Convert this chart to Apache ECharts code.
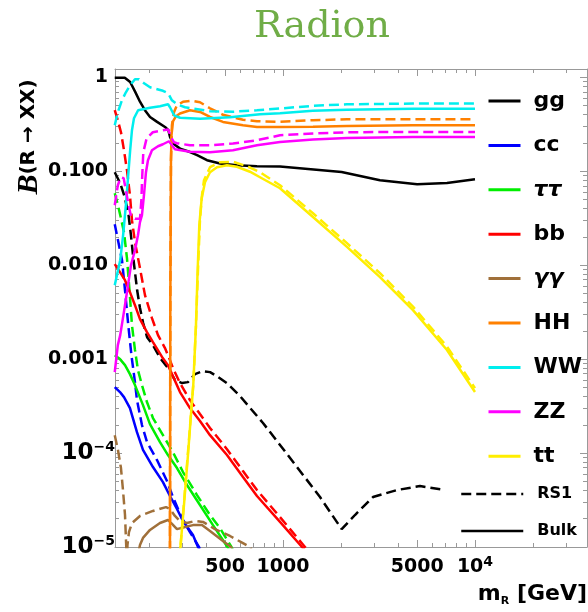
<!DOCTYPE html>
<html><head><meta charset="utf-8">
<script src="https://cdn.jsdelivr.net/npm/echarts@6/dist/echarts.min.js"></script>
<style>html,body{margin:0;padding:0;background:#fff}#c{width:588px;height:612px}</style>
</head><body><div id="c"></div>
<script>
// ---- data (m_R in GeV, branching ratio) ----
const channels = ['gg','cc','ττ','bb','γγ','HH','WW','ZZ','tt'];
const channelColors = ['#000000','#0000ff','#00ee00','#ff0000','#a0703a','#ff8000','#00eeee','#ff00ff','#ffee00'];

const ggBulk = [[133,0.99],[150,0.99],[160,0.89],[170,0.70],[180,0.55],[191,0.446],[203,0.378],[221,0.335],[243,0.296],[253,0.273],[258,0.232],[268,0.197],[291,0.174],[328,0.160],[357,0.148],[402,0.131],[470,0.121],[576,0.116],[732,0.113],[965,0.112],[2020,0.098],[3200,0.080],[5000,0.0727],[7150,0.075],[10000,0.082]];
const ggRS1 = [[133,0.0975],[142,0.0745],[150,0.0529],[157,0.034],[161.5,0.0209],[165.5,0.0128],[169.5,0.0084],[174,0.0054],[180,0.0035],[187,0.00242],[196,0.00171],[210,0.00141],[229,0.00103],[252,0.0008],[274,0.000598],[298,0.000556],[320,0.000569],[348,0.000692],[383,0.000745],[417,0.000727],[453,0.000659],[511,0.000555],[597,0.000404],[787,0.000209],[965,0.000122],[1183,0.000071],[1559,0.000034],[2022,0.0000155],[2371,0.0000219],[2943,0.000034],[3925,0.0000404],[5170,0.0000445],[6980,0.0000404]];

const ccBulk = [[133,0.000504],[141.6,0.000446],[148.6,0.000394],[159.6,0.000301],[173.6,0.000167],[186.6,0.000108],[210.3,0.000071],[237.1,0.0000491],[257.9,0.0000349],[280.5,0.0000254],[301.5,0.0000189],[339.8,0.0000134],[360.9,0.00001],[378.6,0.000008]];
const ccRS1 = [[133,0.0273],[138.2,0.0185],[145.1,0.0113],[150.4,0.00542],[156.4,0.0023],[162.9,0.00105],[169.5,0.000569],[173.6,0.000366],[184.3,0.000199],[195.7,0.000131],[220.8,0.0000842],[248.8,0.0000504],[267.4,0.000034],[297.9,0.0000203],[327.8,0.0000144],[365.2,0.00001],[383.1,0.000008]];

const tautauBulk = [[133,0.0011],[141.6,0.001],[150.4,0.000863],[159.6,0.000692],[169.5,0.000529],[186.6,0.000324],[202.9,0.000203],[228.8,0.000131],[251.8,0.0000952],[280.5,0.0000692],[316.2,0.0000457],[369.6,0.000028],[432,0.0000171],[510.9,0.0000102],[542.5,0.0000082]];
const tautauRS1 = [[133,0.0583],[138.2,0.0435],[143.3,0.0316],[148.6,0.0224],[154,0.01187],[158.7,0.00542],[163.5,0.0023],[169.5,0.00125],[175.7,0.000764],[184.3,0.000529],[195.7,0.000349],[210.3,0.000236],[237.1,0.000155],[267.4,0.000102],[301.5,0.0000628],[356.6,0.0000357],[416.8,0.0000219],[469.9,0.0000159],[536,0.0000102],[569.1,0.0000082]];

const bbBulk = [[133,0.01025],[141.6,0.00842],[150.4,0.00692],[159.6,0.00516],[169.5,0.00375],[180,0.00266],[195.7,0.00194],[210.3,0.00152],[237,0.00102],[251.8,0.000863],[264.2,0.000692],[290.8,0.000446],[327.8,0.000301],[369.6,0.000219],[416.8,0.000155],[510.9,0.0000952],[619,0.0000555],[732,0.0000349],[965,0.0000185],[1256,0.00001],[1383,0.000008]];
const bbRS1 = [[133,0.446],[138,0.349],[143.3,0.26],[148.6,0.167],[154,0.1025],[159.6,0.0555],[163.5,0.0301],[169.5,0.0176],[180,0.00929],[191.1,0.0048],[207.8,0.00273],[223.4,0.0018],[242.9,0.00131],[257.9,0.000976],[267.4,0.000802],[290.8,0.000555],[327.8,0.000366],[369.6,0.00026],[416.8,0.000185],[510.9,0.00011],[619,0.0000643],[732,0.0000404],[965,0.0000208],[1302,0.00001],[1416,0.000008]];

const gamgamBulk = [[173.6,0.0000073],[180,0.0000105],[186.6,0.0000125],[202.9,0.0000152],[228.8,0.000018],[251.8,0.0000194],[264.2,0.0000176],[280.5,0.0000155],[308.8,0.0000163],[339.8,0.0000171],[378.6,0.0000171],[416.8,0.0000148],[486.9,0.0000116],[536,0.00001],[569.1,0.000008]];
const gamgamRS1 = [[133,0.000155],[138.2,0.000108],[143.3,0.0000692],[146.8,0.0000404],[150.4,0.0000219],[152.7,0.00001],[153.2,0.000005],[154.9,0.0000105],[157.7,0.0000144],[163.5,0.000018],[180,0.0000214],[210.3,0.0000242],[245.9,0.0000266],[257.9,0.0000254],[273.8,0.0000214],[290.8,0.0000189],[316.2,0.000018],[348.1,0.0000189],[383.1,0.0000185],[442.5,0.0000155],[529.6,0.0000131],[619,0.000011],[673.1,0.00001],[714.7,0.000008]];

const hhBulk = [[257.5,0.000001],[259,0.0042],[261,0.131],[262.6,0.2415],[267.4,0.34],[277.2,0.385],[290.8,0.411],[327.8,0.446],[369.6,0.428],[416.8,0.378],[486.9,0.335],[619,0.309],[732,0.296],[965,0.296],[1433,0.297],[2154,0.303],[4754,0.309],[10000,0.309]];
const hhRS1 = [[257.5,0.000001],[259,0.0042],[261,0.131],[264,0.309],[270.6,0.424],[280.5,0.504],[301.5,0.548],[335.7,0.562],[369.6,0.542],[416.8,0.468],[486.9,0.399],[619,0.353],[732,0.34],[965,0.336],[1433,0.349],[2154,0.357],[4754,0.357],[10000,0.357]];

const wwBulk = [[133,0.0061],[142,0.0113],[147,0.0208],[152,0.0435],[156,0.086],[160,0.167],[163.5,0.273],[167.5,0.366],[176,0.446],[203,0.474],[229,0.491],[252,0.516],[258,0.48],[271,0.394],[291,0.371],[370,0.362],[530,0.375],[759,0.404],[965,0.414],[1430,0.44],[2150,0.451],[4750,0.462],[10000,0.462]];
const wwRS1 = [[133,0.309],[138,0.424],[145,0.569],[152,0.692],[160,0.822],[169.5,0.952],[178,0.952],[189,0.863],[203,0.783],[237,0.718],[252,0.676],[264,0.569],[280.5,0.516],[309,0.48],[417,0.435],[549,0.43],[732,0.446],[965,0.465],[1433,0.497],[2154,0.516],[4754,0.525],[10000,0.525]];

const zzBulk = [[133,0.000727],[138,0.00141],[142,0.0018],[149,0.00332],[154,0.00516],[161.6,0.01],[169.5,0.0144],[175.7,0.0208],[180,0.0287],[184.3,0.034],[188.8,0.0555],[193.4,0.0976],[198.1,0.131],[207.8,0.167],[223.4,0.1845],[237,0.1937],[254.8,0.2085],[264.2,0.189],[273.8,0.1714],[327.8,0.1612],[416.8,0.1593],[549,0.1673],[732,0.189],[965,0.205],[1433,0.2174],[2154,0.226],[4754,0.2317],[10000,0.2317]];
const zzRS1 = [[133,0.0435],[138,0.071],[143,0.0863],[148,0.0842],[152,0.0628],[157,0.0435],[161.6,0.0332],[169.5,0.0312],[180,0.0312],[183,0.0491],[185,0.0907],[187.3,0.1593],[195,0.2244],[210,0.26],[237,0.273],[252.7,0.278],[261,0.23],[270.6,0.2035],[280.5,0.1986],[327.8,0.189],[416.8,0.189],[549,0.197],[732,0.2137],[965,0.2415],[1433,0.252],[2154,0.26],[4754,0.262],[10000,0.262]];

const ttBulk = [[287.3,0.0000073],[292.5,0.00001],[305.1,0.000028],[320,0.0000952],[331.7,0.000254],[341,0.000529],[352.3,0.0023],[358.7,0.00783],[366.6,0.0266],[377.3,0.0516],[392.5,0.0764],[416.8,0.0976],[453.3,0.1103],[510.9,0.1158],[576,0.1116],[673.1,0.0988],[759,0.0863],[965,0.0659],[1433,0.0326],[2154,0.01566],[3200,0.00745],[4754,0.00332],[7147,0.00125],[10000,0.000446]];
const ttRS1 = [[287.3,0.0000073],[292.5,0.00001],[341,0.000529],[352.3,0.0023],[360.9,0.00885],[369.6,0.0301],[378.6,0.0555],[387.8,0.0802],[416.8,0.1103],[469.9,0.1247],[549.1,0.1262],[649.4,0.113],[759,0.0976],[965,0.071],[1433,0.0357],[2154,0.01714],[3200,0.00822],[4754,0.00362],[7147,0.00136],[10000,0.000491]];

const bulkSets = [ggBulk, ccBulk, tautauBulk, bbBulk, gamgamBulk, hhBulk, wwBulk, zzBulk, ttBulk];
const rs1Sets = [ggRS1, ccRS1, tautauRS1, bbRS1, gamgamRS1, hhRS1, wwRS1, zzRS1, ttRS1];

// ---- axes: ticks and labels ----
const xRange = [133.4, 38320];
const yRange = [1e-5, 1.225];
const xMajorTicks = [500, 1000, 5000, 10000];
const xTickLabels = ['{n|500}', '{n|1000}', '{n|5000}', '{b|10}{s|4}'];
const xMinorTicks = [200,300,400,600,700,800,900,2000,3000,4000,6000,7000,8000,9000,20000,30000];
const yMajorTicks = [1e-5, 1e-4, 1e-3, 1e-2, 1e-1, 1];
const yTickLabels = ['{b|10}{s|−5}', '{b|10}{s|−4}', '{d|0.001}', '{d|0.010}', '{d|0.100}', '{d|1}'];
const yMinorTicks = [];
for (let e = -5; e <= -1; e++) for (let k = 2; k <= 9; k++) yMinorTicks.push(k * Math.pow(10, e));

const L = Math.log10;
const FRAME = '#999999';
const FONT = 'DejaVu Sans';

function dispAxis(pos, range, ticks, len, showLine, labels, labelOpts) {
  const a = {
    type: 'value', position: pos, min: L(range[0]), max: L(range[1]),
    axisLine: { show: showLine, onZero: false, lineStyle: { color: FRAME, width: 1 } },
    axisTick: { show: true, inside: true, length: len, customValues: ticks.map(L), lineStyle: { color: FRAME, width: 1 } },
    axisLabel: { show: false },
    splitLine: { show: false }, splitArea: { show: false }
  };
  if (labels) {
    a.axisLabel = Object.assign({
      show: true, customValues: ticks.map(L),
      formatter: function (v) {
        let best = 0, bd = 1e9;
        ticks.forEach(function (t, i) { const d = Math.abs(L(t) - v); if (d < bd) { bd = d; best = i; } });
        return labels[best];
      }
    }, labelOpts);
  }
  return a;
}

const xAxes = [
  { type: 'log', logBase: 10, min: xRange[0], max: xRange[1], position: 'bottom', show: false },
  dispAxis('bottom', xRange, xMajorTicks, 7, true, xTickLabels, {
    margin: 8,
    rich: {
      n: { fontFamily: FONT, fontWeight: 'bold', fontSize: 19, color: '#000', lineHeight: 24 },
      b: { fontFamily: FONT, fontWeight: 'bold', fontSize: 19, color: '#000', lineHeight: 24 },
      s: { fontFamily: FONT, fontWeight: 'bold', fontSize: 14, color: '#000', lineHeight: 16, verticalAlign: 'top' }
    }
  }),
  dispAxis('bottom', xRange, xMinorTicks, 4, false),
  dispAxis('top', xRange, xMajorTicks, 7, true),
  dispAxis('top', xRange, xMinorTicks, 4, false)
];
const yAxes = [
  { type: 'log', logBase: 10, min: yRange[0], max: yRange[1], position: 'left', show: false },
  dispAxis('left', yRange, yMajorTicks, 7, true, yTickLabels, {
    margin: 0,
    rich: {
      d: { fontFamily: FONT, fontWeight: 'bold', fontSize: 19, color: '#000', lineHeight: 24, padding: [0, 7, 0, 0] },
      b: { fontFamily: FONT, fontWeight: 'bold', fontSize: 23, color: '#000', lineHeight: 26 },
      s: { fontFamily: FONT, fontWeight: 'bold', fontSize: 14, color: '#000', lineHeight: 19, verticalAlign: 'top' }
    }
  }),
  dispAxis('left', yRange, yMinorTicks, 4, false),
  dispAxis('right', yRange, yMajorTicks, 7, true),
  dispAxis('right', yRange, yMinorTicks, 4, false)
];

const series = [];
channels.forEach(function (ch, i) {
  series.push({
    name: ch, type: 'line', xAxisIndex: 0, yAxisIndex: 0, data: bulkSets[i],
    symbol: 'none', showSymbol: false, clip: true, z: 3,
    lineStyle: { color: channelColors[i], width: 2.5, type: 'solid' },
    itemStyle: { color: channelColors[i] }
  });
  series.push({
    name: ch + ' RS1', type: 'line', xAxisIndex: 0, yAxisIndex: 0, data: rs1Sets[i],
    symbol: 'none', showSymbol: false, clip: true, z: 3,
    lineStyle: { color: channelColors[i], width: 2.5, type: [10, 5] },
    itemStyle: { color: channelColors[i] }
  });
});
series.push({ name: 'RS1', type: 'line', xAxisIndex: 0, yAxisIndex: 0, data: [], symbol: 'none',
  lineStyle: { color: '#000', width: 2.5, type: [10, 5] }, itemStyle: { color: '#000' } });
series.push({ name: 'Bulk', type: 'line', xAxisIndex: 0, yAxisIndex: 0, data: [], symbol: 'none',
  lineStyle: { color: '#000', width: 2.5, type: 'solid' }, itemStyle: { color: '#000' } });

const hiddenSymbol = { color: 'rgba(0,0,0,0)', borderColor: 'rgba(0,0,0,0)', borderWidth: 0 };

const chart = echarts.init(document.getElementById('c'), null, { renderer: 'canvas' });
chart.setOption({
  animation: false,
  backgroundColor: '#ffffff',
  title: {
    text: 'Radion', left: 254, top: 8, padding: 0,
    textStyle: { fontFamily: 'DejaVu Serif', fontWeight: 'normal', fontSize: 38, color: '#70ad47' }
  },
  grid: { left: 115, top: 69, right: 1, bottom: 65, containLabel: false },
  xAxis: xAxes,
  yAxis: yAxes,
  legend: [
    {
      data: channels, orient: 'vertical', left: 487, top: 90, padding: 0,
      itemWidth: 32, itemHeight: 14, itemGap: 22.4, selectedMode: false,
      itemStyle: hiddenSymbol,
      lineStyle: { width: 3 },
      textStyle: {
        padding: [0, 0, 0, 8], lineHeight: 22,
        rich: {
          n: { fontFamily: FONT, fontWeight: 'bold', fontSize: 22, color: '#000', lineHeight: 22 },
          i: { fontFamily: FONT, fontWeight: 'bold', fontStyle: 'italic', fontSize: 22, color: '#000', lineHeight: 22 }
        }
      },
      formatter: function (name) { return (name === 'ττ' || name === 'γγ') ? '{i|' + name + '}' : '{n|' + name + '}'; }
    },
    {
      data: ['RS1', 'Bulk'], orient: 'vertical', left: 460, top: 486, padding: 0,
      itemWidth: 62, itemHeight: 14, itemGap: 21, selectedMode: false,
      itemStyle: hiddenSymbol,
      lineStyle: { width: 2.5 },
      textStyle: { fontFamily: FONT, fontWeight: 'bold', fontSize: 16, color: '#000', lineHeight: 16, padding: [0, 0, 0, 9] }
    }
  ],
  graphic: [
    {
      type: 'text', x: 29, y: 137, rotation: Math.PI / 2, z: 10,
      style: {
        text: '{B|B}{t|(R → XX)}', align: 'center', verticalAlign: 'middle',
        rich: {
          B: { fontFamily: 'Liberation Serif', fontStyle: 'italic', fontWeight: 'bold', fontSize: 30, fill: '#000', lineHeight: 30 },
          t: { fontFamily: FONT, fontWeight: 'bold', fontSize: 20, fill: '#000', lineHeight: 30 }
        }
      }
    },
    {
      type: 'text', x: 587, y: 594, z: 10,
      style: {
        text: '{m|m}{s|R}{m| [GeV]}', align: 'right', verticalAlign: 'middle',
        rich: {
          m: { fontFamily: FONT, fontWeight: 'bold', fontSize: 22, fill: '#000', lineHeight: 26 },
          s: { fontFamily: FONT, fontWeight: 'bold', fontSize: 11, fill: '#000', lineHeight: 8, verticalAlign: 'bottom' }
        }
      }
    }
  ],
  series: series
});
</script>
</body></html>
